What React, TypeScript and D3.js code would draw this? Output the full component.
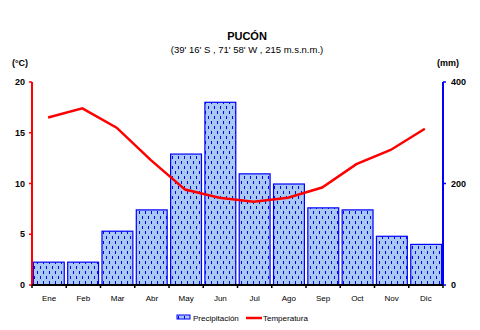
import React from "react";
import * as d3 from "d3";

const months = ["Ene", "Feb", "Mar", "Abr", "May", "Jun", "Jul", "Ago", "Sep", "Oct", "Nov", "Dic"];
const precip = [45, 45, 106, 148, 258, 360, 219, 199, 152, 148, 96, 80];
const temp = [16.5, 17.4, 15.5, 12.3, 9.4, 8.6, 8.2, 8.6, 9.6, 11.9, 13.3, 15.4];
const tempTicks = [0, 5, 10, 15, 20];
const precipTicks = [0, 200, 400];

const W = 480, H = 330;
const L = 32, R = 443, T = 82, B = 285;

export default function App() {
  const x = d3.scaleBand<string>().domain(months).range([L, R]).paddingInner(0.1).paddingOuter(0.04);
  const xc = d3.scaleBand<string>().domain(months).range([L, R]);
  const yT = d3.scaleLinear().domain([0, 20]).range([B, T]);
  const yP = d3.scaleLinear().domain([0, 400]).range([B, T]);
  const line = d3.line<number>().x((_, i) => (xc(months[i]) as number) + xc.bandwidth() / 2 - 1).y(d => yT(d));
  const font = "'Liberation Sans', Arial, sans-serif";
  return (
    <svg width={W} height={H} style={{ position: "absolute", left: 0, top: 0, background: "#fff" }} fontFamily={font}>
      <defs>
        <pattern id="rain" width="6" height="10" patternUnits="userSpaceOnUse">
          <rect width="6" height="10" fill="#a9c9f2" />
          <rect x="1" y="1" width="1" height="3" fill="#0000ff" />
          <rect x="4" y="6" width="1" height="3" fill="#0000ff" />
        </pattern>
      </defs>
      <rect width={W} height={H} fill="#fff" />
      <text x={247} y={40} textAnchor="middle" fontSize={11} fontWeight="bold">PUCÓN</text>
      <text x={247} y={53} textAnchor="middle" fontSize={9.5}>(39' 16' S , 71' 58' W , 215 m.s.n.m.)</text>
      <text x={12} y={66} fontSize={9} fontWeight="bold">(°C)</text>
      <text x={437} y={66} fontSize={9} fontWeight="bold">(mm)</text>
      {months.map((m, i) => (
        <rect key={m} x={x(m)} y={yP(precip[i])} width={x.bandwidth()} height={B - yP(precip[i])}
          fill="url(#rain)" stroke="#0000ff" strokeWidth={1.2} />
      ))}
      <path d={line(temp) || ""} fill="none" stroke="#ff0000" strokeWidth={2.5} />
      {/* left axis */}
      <line x1={L} x2={L} y1={T} y2={B} stroke="#ff0000" strokeWidth={2} />
      {tempTicks.map(t => (
        <g key={t}>
          <line x1={L - 3} x2={L} y1={yT(t)} y2={yT(t)} stroke="#ff0000" strokeWidth={1.5} />
          <text x={L - 7} y={yT(t) + 3} textAnchor="end" fontSize={9} fontWeight="bold">{t}</text>
        </g>
      ))}
      {/* right axis */}
      <line x1={R} x2={R} y1={T} y2={B} stroke="#0000ff" strokeWidth={2} />
      {precipTicks.map(t => (
        <g key={t}>
          <line x1={R} x2={R + 3} y1={yP(t)} y2={yP(t)} stroke="#0000ff" strokeWidth={1.5} />
          <text x={R + 8} y={yP(t) + 3} textAnchor="start" fontSize={9} fontWeight="bold">{t}</text>
        </g>
      ))}
      {/* bottom axis */}
      <line x1={L} x2={R} y1={B} y2={B} stroke="#000" strokeWidth={2} />
      {months.map(m => (
        <line key={"t" + m} x1={xc(m)} x2={xc(m)} y1={B} y2={B + 3} stroke="#000" strokeWidth={1.5} />
      ))}
      <line x1={R} x2={R} y1={B} y2={B + 3} stroke="#000" strokeWidth={1.5} />
      {months.map(m => (
        <text key={"l" + m} x={(xc(m) as number) + xc.bandwidth() / 2} y={301} textAnchor="middle" fontSize={8}>{m}</text>
      ))}
      {/* legend */}
      <rect x={177} y={315} width={13} height={4} fill="url(#rain)" stroke="#0000ff" strokeWidth={1} />
      <text x={193} y={321} fontSize={8}>Precipitación</text>
      <line x1={246} x2={262} y1={318} y2={318} stroke="#ff0000" strokeWidth={2.5} />
      <text x={263} y={321} fontSize={8}>Temperatura</text>
    </svg>
  );
}
